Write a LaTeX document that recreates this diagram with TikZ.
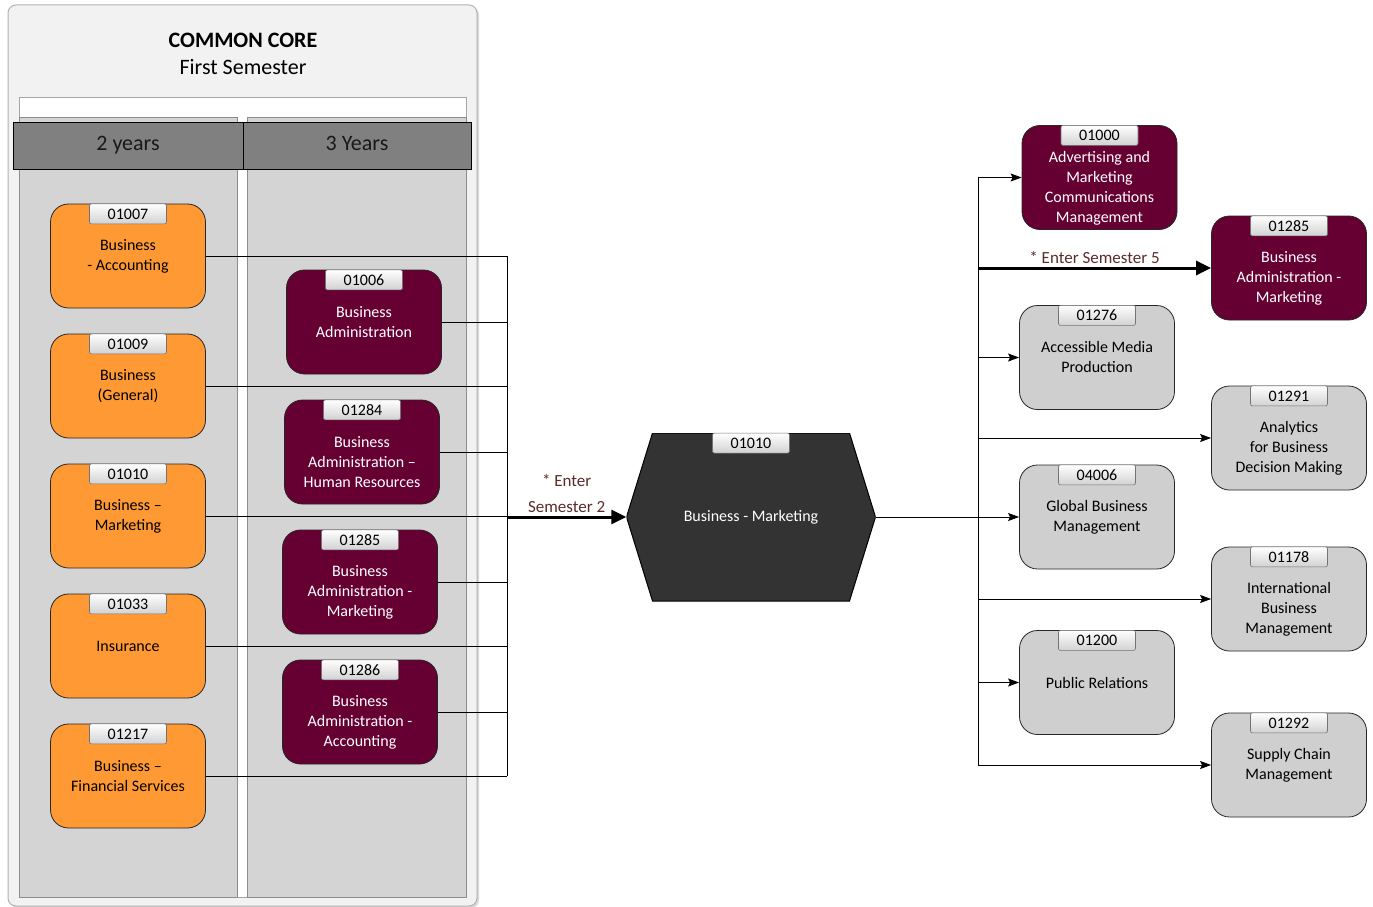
\documentclass[tikz,border=0pt]{standalone}
\usepackage{fontspec}
\setmainfont{Carlito}
\usetikzlibrary{shapes.geometric, arrows.meta, shadows, positioning}

\definecolor{corange}{HTML}{FF9933}
\definecolor{cmaroon}{HTML}{660033}
\definecolor{cgray}{HTML}{CFCFCF}
\definecolor{lanegray}{HTML}{D4D4D4}
\definecolor{panelgray}{HTML}{F2F2F2}
\definecolor{headgray}{HTML}{808080}
\definecolor{hexgray}{HTML}{333333}
\definecolor{notered}{HTML}{5C2B2B}

\newcommand{\boxfont}{\fontsize{16}{20}\selectfont}
\newcommand{\headfont}{\fontsize{22}{27}\selectfont}
% pushes a long text below the code tab
\newcommand{\low}{\rule{0pt}{32pt}}

\begin{document}
\begin{tikzpicture}[x=1pt, y=1pt, node distance=130pt,
        % styles
        course/.style = {
                rectangle, rounded corners=18pt, draw=black!85, line width=0.8pt,
                minimum width=155pt, minimum height=104pt,
                align=center, font=\boxfont, inner sep=2pt
            },
        twoyear/.style = {course, fill=corange},
        threeyear/.style = {course, fill=cmaroon, text=white},
        option/.style = {course, fill=cgray},
        tab/.style = {
                rectangle, rounded corners=2pt, draw=black!55, line width=0.6pt,
                top color=white, bottom color=black!18,
                minimum width=77pt, minimum height=20pt, inner sep=0pt,
                font=\boxfont, text=black
            },
        coursecode/.style = {label={[tab, anchor=north]north:#1}},
        header/.style = {
                rectangle, draw=black, line width=1pt, fill=headgray,
                minimum height=47pt, text height=15pt, text depth=5pt,
                font=\headfont, text=black!90
            },
        hexnode/.style = {
                rectangle, minimum width=249pt, minimum height=168pt,
                text=white, font=\boxfont,
                path picture={
                        \filldraw[fill=hexgray, draw=black, line width=1pt]
                        (path picture bounding box.west)
                        -- ([xshift=26pt]path picture bounding box.north west)
                        -- ([xshift=-26pt]path picture bounding box.north east)
                        -- (path picture bounding box.east)
                        -- ([xshift=-26pt]path picture bounding box.south east)
                        -- ([xshift=26pt]path picture bounding box.south west)
                        -- cycle;
                    }
            },
        note/.style = {font=\fontsize{17}{26}\selectfont, text=notered, align=center, inner sep=3pt},
        line/.style = {line width=0.9pt},
        arrow/.style = {line width=0.9pt, -{Stealth[length=11pt, width=8pt, inset=2pt]}},
        bigarrow/.style = {line width=3pt, -{Triangle[length=15pt, width=14pt]}}]

    \useasboundingbox (0,0) rectangle (1373,-907);

    % common core panel
    \draw[draw=black!30, fill=panelgray, line width=1pt, rounded corners=8pt,
        drop shadow={shadow xshift=2pt, shadow yshift=-2pt, opacity=0.3}] (8,-5) rectangle (477,-906);
    \node (core) [align=center, font=\headfont] at (243,-54) {\textbf{COMMON CORE}\\First Semester};
    \draw[draw=black!35, fill=white, line width=1pt] (19,-97) rectangle (466,-897);
    \draw[draw=black!45, fill=lanegray, line width=1pt] (19,-117) rectangle (237,-897);
    \draw[draw=black!45, fill=lanegray, line width=1pt] (247,-117) rectangle (466,-897);
    \node (years2) [header, minimum width=230pt] at (128,-145.5) {2 years};
    \node (years3) [header, minimum width=228pt] at (357,-145.5) {3 Years};

    % 2 years
    \node (acct) [twoyear, coursecode=01007] at (128,-256) {Business\\- Accounting};
    \node (general) [twoyear, coursecode=01009, below of=acct] {Business\\(General)};
    \node (mkt) [twoyear, coursecode=01010, below of=general] {Business --\\Marketing};
    \node (insur) [twoyear, coursecode=01033, below of=mkt] {Insurance};
    \node (fin) [twoyear, coursecode=01217, below of=insur] {Business --\\Financial Services};

    % 3 years
    \node (admin) [threeyear, coursecode=01006] at (364,-322) {Business\\Administration};
    \node (hr) [threeyear, coursecode=01284, below of=admin, xshift=-2pt] {\low Business\\Administration --\\Human Resources};
    \node (adminmkt) [threeyear, coursecode=01285, below of=hr, xshift=-2pt] {\low Business\\Administration -\\Marketing};
    \node (adminacct) [threeyear, coursecode=01286, below of=adminmkt] {\low Business\\Administration -\\Accounting};

    % hub
    \node (marketing) [hexnode, coursecode=01010] at (751,-517) {Business - Marketing};

    % options
    \node (advert) [threeyear, coursecode=01000] at (1099.5,-177.5) {\low Advertising and\\Marketing\\Communications\\Management};
    \node (media) [option, coursecode=01276, below of=advert, xshift=-2.5pt, yshift=-50pt] {Accessible Media\\Production};
    \node (global) [option, coursecode=04006, below of=media, yshift=-29.5pt] {Global Business\\Management};
    \node (pr) [option, coursecode=01200, below of=global, yshift=-35.5pt] {Public Relations};

    \node (semfive) [threeyear, coursecode=01285] at (1289,-268) {\low Business\\Administration -\\Marketing};
    \node (analytics) [option, coursecode=01291, below of=semfive, yshift=-40pt] {\low Analytics\\for Business\\Decision Making};
    \node (intl) [option, coursecode=01178, below of=analytics, yshift=-31pt] {\low International\\Business\\Management};
    \node (supply) [option, coursecode=01292, below of=intl, yshift=-36pt] {Supply Chain\\Management};

    % connectors, left
    \coordinate (lbus) at (507,-517);
    \foreach \n in {acct, general, mkt, insur, fin, admin, hr, adminmkt, adminacct}
        \draw[line] (\n) -- (lbus |- \n);
    \draw[line] (lbus |- acct) -- (lbus |- fin);
    \draw[bigarrow] (lbus) -- node[note, above] {* Enter\\Semester 2} (marketing);

    % connectors, right
    \coordinate (rbus) at (978,-517);
    \draw[arrow] (marketing) -- (global);
    \draw[line] (rbus |- advert) -- (rbus |- supply);
    \foreach \n in {advert, media, pr, analytics, intl, supply}
        \draw[arrow] (rbus |- \n) -- (\n);
    \draw[bigarrow] (rbus |- semfive) -- node[note, above] {* Enter Semester 5} (semfive);
\end{tikzpicture}
\end{document}
